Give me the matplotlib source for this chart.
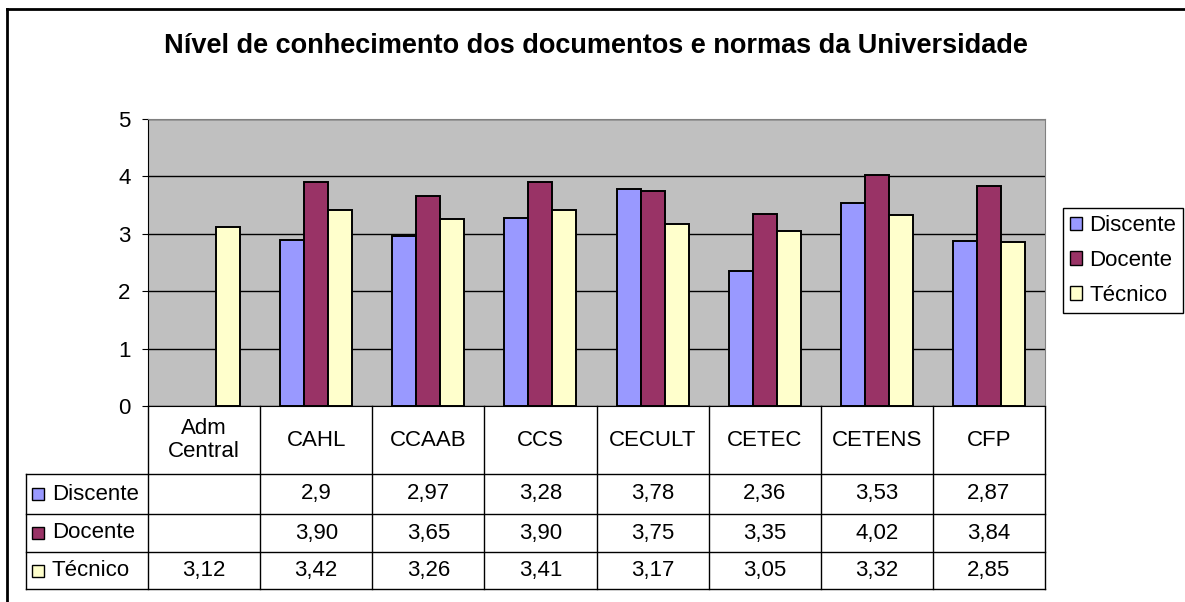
import matplotlib.pyplot as plt
from matplotlib.lines import Line2D
from matplotlib.patches import Patch
import matplotlib.transforms as mtransforms
import numpy as np

plt.rcParams['font.family'] = ['Liberation Sans', 'DejaVu Sans']

categories = ['Adm\nCentral', 'CAHL', 'CCAAB', 'CCS', 'CECULT', 'CETEC', 'CETENS', 'CFP']
series_names = ['Discente', 'Docente', 'Técnico']
discente = [np.nan, 2.9, 2.97, 3.28, 3.78, 2.36, 3.53, 2.87]
docente = [np.nan, 3.90, 3.65, 3.90, 3.75, 3.35, 4.02, 3.84]
tecnico = [3.12, 3.42, 3.26, 3.41, 3.17, 3.05, 3.32, 2.85]
table_text = [
    ['', '2,9', '2,97', '3,28', '3,78', '2,36', '3,53', '2,87'],
    ['', '3,90', '3,65', '3,90', '3,75', '3,35', '4,02', '3,84'],
    ['3,12', '3,42', '3,26', '3,41', '3,17', '3,05', '3,32', '2,85'],
]
colors = ['#9999FF', '#993366', '#FFFFCC']
fs = 16

W, H = 1185, 602
fig = plt.figure(figsize=(W / 100, H / 100), dpi=100)

# outer frame (top and left edges only visible)
fig.add_artist(Line2D([7 / W, 7 / W], [0, 1 - 9 / H], color='black', lw=2, transform=fig.transFigure))
fig.add_artist(Line2D([7 / W, 1], [1 - 9 / H, 1 - 9 / H], color='black', lw=2, transform=fig.transFigure))

# plot area in pixels
px_l, px_r, px_t, px_b = 148, 1045, 119, 406
ax = fig.add_axes([px_l / W, 1 - px_b / H, (px_r - px_l) / W, (px_b - px_t) / H])
ax.set_facecolor('#C0C0C0')
ax.set_xlim(-0.5, len(categories) - 0.5)
ax.set_ylim(0, 5)
ax.set_yticks(range(6))
ax.tick_params(axis='y', labelsize=fs, length=4.5, direction='out', pad=8)
ax.set_xticks([])
ax.grid(axis='y', color='black', lw=1)
ax.set_axisbelow(True)
for s in ['top', 'right']:
    ax.spines[s].set_color('#808080')
for s in ['left', 'bottom']:
    ax.spines[s].set_color('black')

x = np.arange(len(categories))
bw = 24 / 112
for i, (vals, c) in enumerate(zip([discente, docente, tecnico], colors)):
    ax.bar(x + (i - 1) * bw, vals, width=bw, color=c, edgecolor='black', lw=1.4, zorder=3)

# data table below the axes
trans = mtransforms.blended_transform_factory(ax.transData, ax.transAxes)
def yf(py):
    return (px_b - py) / (px_b - px_t)

row_edges = [406, 474, 514, 552, 589]
x_left = -0.5 + (26 - px_l) / 112
x_right = len(categories) - 0.5
lk = dict(color='black', lw=1, transform=trans, clip_on=False)
for ry in row_edges[1:]:
    ax.add_line(Line2D([x_left, x_right], [yf(ry), yf(ry)], **lk))
for cx in np.arange(-0.5, len(categories), 1.0):
    ax.add_line(Line2D([cx, cx], [yf(406), yf(589)], **lk))
ax.add_line(Line2D([x_left, x_left], [yf(474), yf(589)], **lk))

for j, cat in enumerate(categories):
    ax.text(j, yf(440), cat, ha='center', va='center', fontsize=fs, transform=trans, clip_on=False,
            linespacing=1.15)
for r in range(3):
    yc = yf((row_edges[r + 1] + row_edges[r + 2]) / 2)
    ax.plot([x_left + 12 / 112], [yc], marker='s', ms=8.5, mfc=colors[r], mec='black', mew=1,
            transform=trans, clip_on=False)
    ax.text(x_left + 26 / 112, yc, series_names[r], ha='left', va='center', fontsize=fs,
            transform=trans, clip_on=False)
    for j in range(len(categories)):
        ax.text(j, yc, table_text[r][j], ha='center', va='center', fontsize=fs,
                transform=trans, clip_on=False)

fig.text(596 / W, 1 - 46 / H, 'Nível de conhecimento dos documentos e normas da Universidade',
         ha='center', va='center', fontsize=19.5, fontweight='bold')

handles = [Patch(facecolor=c, edgecolor='black', lw=1) for c in colors]
leg = fig.legend(handles, series_names, loc='upper left', bbox_to_anchor=(1063 / W, 1 - 208 / H),
                 fontsize=fs, fancybox=False, frameon=True, edgecolor='black', framealpha=1,
                 handlelength=0.55, handleheight=0.55, handletextpad=0.3, borderpad=0.32,
                 labelspacing=0.62, borderaxespad=0)
leg.get_frame().set_linewidth(1)

fig.savefig('out.png', dpi=100)
